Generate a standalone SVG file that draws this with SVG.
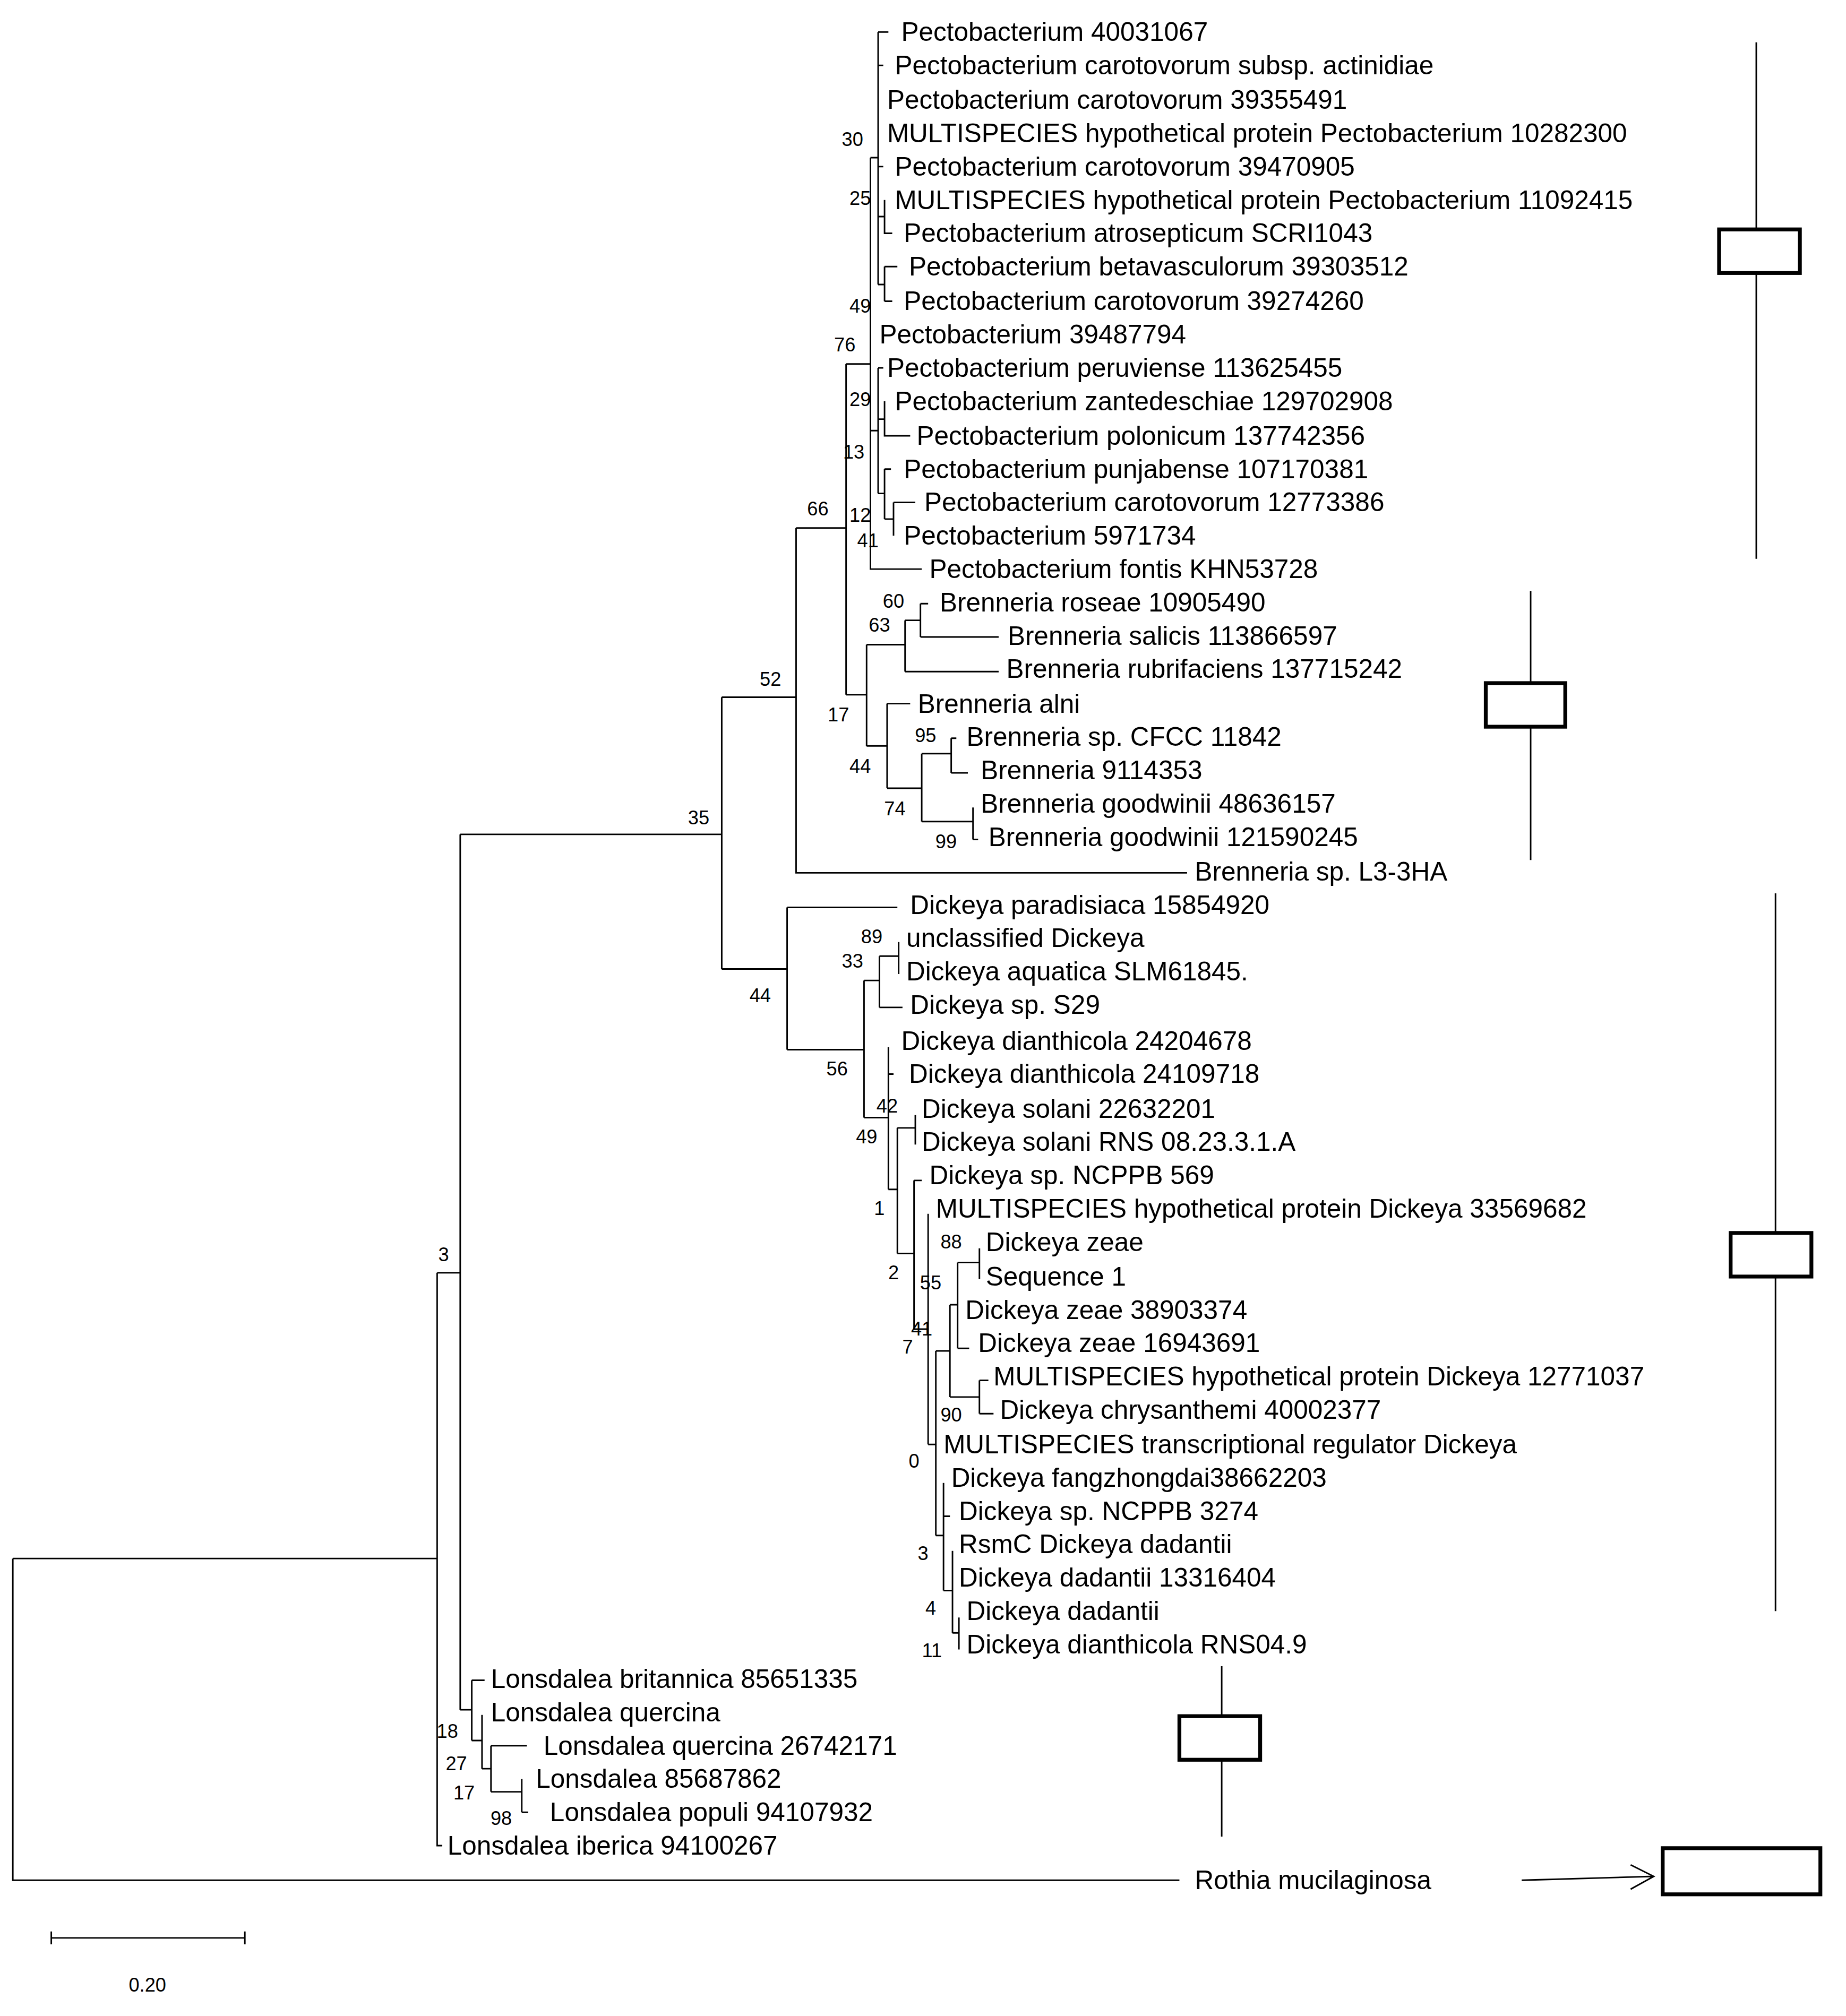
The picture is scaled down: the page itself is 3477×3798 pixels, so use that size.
<svg xmlns="http://www.w3.org/2000/svg" width="3477" height="3798" viewBox="0 0 3477 3798">
<style>
.t{font-family:"Liberation Sans",Arial,sans-serif;font-size:20.5px;fill:#000}
.b{font-family:"Liberation Sans",Arial,sans-serif;font-size:15px;fill:#000;text-anchor:middle}
.l{fill:none;stroke:#000;stroke-width:1.2}
.bx{fill:#fff;stroke:#000;stroke-width:3}
</style>
<rect width="3477" height="3798" fill="#fff"/>
<g transform="scale(2.4146)">
<g id="connectors">
<path class="l" d="M10 1216 V1467 H920 M10 1216 H341 M341 993 V1440 H345 M341 993 H359 M359 651 V1334 M359 651 H563 M359 1334 H368 M368 1311 V1358 M368 1311 H378 M368 1358 H376 M376 1338 V1380 M376 1380 H383 M383 1362 V1398 M383 1362 H411 M383 1398 H407 M407 1388 V1414 M407 1414 H412
M563 544 V756 M563 544 H621 M563 756 H614
M614 708 V819 M614 708 H700 M614 819 H674 M674 765 V872 M674 765 H686 M686 746 V786 M686 786 H704 M686 746 H701 M701 735 V760 M674 872 H693 M693 817 V928 M693 838 H697 M693 928 H700 M700 880 V978 M700 880 H714 M714 870 V893 M700 978 H713 M713 921 V1037 M713 921 H719 M713 1037 H724 M724 947 V1127 M724 1127 H730 M730 1054 V1198 M730 1054 H741 M741 1018 V1090 M741 1018 H747 M747 985 V1052 M747 985 H764 M764 974 V998 M747 1052 H756 M741 1090 H764 M764 1077 V1103 M764 1077 H771 M764 1103 H775 M730 1198 H736 M736 1157 V1241 M736 1183 H741 M736 1241 H743 M743 1210 V1274 M743 1274 H748 M748 1262 V1287
M621 412 V681 H926 M621 412 H660 M660 284 V542 M660 284 H679 M660 542 H676 M676 503 V582 M676 503 H706 M706 484 V524 M706 524 H779 M706 484 H718 M718 471 V497 M718 471 H724 M718 497 H779 M676 582 H692 M692 549 V615 M692 549 H710 M692 615 H719 M719 588 V641 M719 588 H742 M742 576 V603 M742 576 H746 M742 603 H755 M719 641 H759 M759 630 V655 M759 655 H763
M679 123 V444 H719 M679 123 H685 M685 25 V222 M685 25 H693 M685 51 H689 M685 130 H689 M685 169 H690 M690 156 V182 H696 M685 222 H690 M690 208 V235 M690 208 H700 M690 235 H696 M679 336 H685 M685 287 V385 M685 287 H689 M685 327 H690 M690 313 V340 H710 M685 385 H690 M690 366 V405 M690 366 H695 M690 405 H697 M697 392 V418 M697 392 H714
M1370 33 V436 M1194 461 V671 M1385 697 V1257 M953 1300 V1433
M1187 1467 L1290 1464 M1272 1455 L1290 1464 L1272 1474
M40 1512 H191 M40 1507 V1517 M191 1507 V1517"/>
</g>
<g id="boxes">
<rect class="bx" x="1341" y="179" width="63" height="34"/>
<rect class="bx" x="1159" y="533" width="62" height="34"/>
<rect class="bx" x="1350" y="962" width="63" height="34"/>
<rect class="bx" x="920" y="1339" width="63" height="34"/>
<rect class="bx" x="1297" y="1442" width="123" height="36"/>
</g>
<g id="taxa">
<text class="t" x="703" y="32">Pectobacterium 40031067</text>
<text class="t" x="698" y="58">Pectobacterium carotovorum subsp. actinidiae</text>
<text class="t" x="692" y="85">Pectobacterium carotovorum 39355491</text>
<text class="t" x="692" y="111">MULTISPECIES hypothetical protein Pectobacterium 10282300</text>
<text class="t" x="698" y="137">Pectobacterium carotovorum 39470905</text>
<text class="t" x="698" y="163">MULTISPECIES hypothetical protein Pectobacterium 11092415</text>
<text class="t" x="705" y="189">Pectobacterium atrosepticum SCRI1043</text>
<text class="t" x="709" y="215">Pectobacterium betavasculorum 39303512</text>
<text class="t" x="705" y="242">Pectobacterium carotovorum 39274260</text>
<text class="t" x="686" y="268">Pectobacterium 39487794</text>
<text class="t" x="692" y="294">Pectobacterium peruviense 113625455</text>
<text class="t" x="698" y="320">Pectobacterium zantedeschiae 129702908</text>
<text class="t" x="715" y="347">Pectobacterium polonicum 137742356</text>
<text class="t" x="705" y="373">Pectobacterium punjabense 107170381</text>
<text class="t" x="721" y="399">Pectobacterium carotovorum 12773386</text>
<text class="t" x="705" y="425">Pectobacterium 5971734</text>
<text class="t" x="725" y="451">Pectobacterium fontis KHN53728</text>
<text class="t" x="733" y="477">Brenneria roseae 10905490</text>
<text class="t" x="786" y="503">Brenneria salicis 113866597</text>
<text class="t" x="785" y="529">Brenneria rubrifaciens 137715242</text>
<text class="t" x="716" y="556">Brenneria alni</text>
<text class="t" x="754" y="582">Brenneria sp. CFCC 11842</text>
<text class="t" x="765" y="608">Brenneria 9114353</text>
<text class="t" x="765" y="634">Brenneria goodwinii 48636157</text>
<text class="t" x="771" y="660">Brenneria goodwinii 121590245</text>
<text class="t" x="932" y="687">Brenneria sp. L3-3HA</text>
<text class="t" x="710" y="713">Dickeya paradisiaca 15854920</text>
<text class="t" x="707" y="739">unclassified Dickeya</text>
<text class="t" x="707" y="765">Dickeya aquatica SLM61845.</text>
<text class="t" x="710" y="791">Dickeya sp. S29</text>
<text class="t" x="703" y="819">Dickeya dianthicola 24204678</text>
<text class="t" x="709" y="845">Dickeya dianthicola 24109718</text>
<text class="t" x="719" y="872">Dickeya solani 22632201</text>
<text class="t" x="719" y="898">Dickeya solani RNS 08.23.3.1.A</text>
<text class="t" x="725" y="924">Dickeya sp. NCPPB 569</text>
<text class="t" x="730" y="950">MULTISPECIES hypothetical protein Dickeya 33569682</text>
<text class="t" x="769" y="976">Dickeya zeae</text>
<text class="t" x="769" y="1003">Sequence 1</text>
<text class="t" x="753" y="1029">Dickeya zeae 38903374</text>
<text class="t" x="763" y="1055">Dickeya zeae 16943691</text>
<text class="t" x="775" y="1081">MULTISPECIES hypothetical protein Dickeya 12771037</text>
<text class="t" x="780" y="1107">Dickeya chrysanthemi 40002377</text>
<text class="t" x="736" y="1134">MULTISPECIES transcriptional regulator Dickeya</text>
<text class="t" x="742" y="1160">Dickeya fangzhongdai38662203</text>
<text class="t" x="748" y="1186">Dickeya sp. NCPPB 3274</text>
<text class="t" x="748" y="1212">RsmC Dickeya dadantii</text>
<text class="t" x="748" y="1238">Dickeya dadantii 13316404</text>
<text class="t" x="754" y="1264">Dickeya dadantii</text>
<text class="t" x="754" y="1290">Dickeya dianthicola RNS04.9</text>
<text class="t" x="383" y="1317">Lonsdalea britannica 85651335</text>
<text class="t" x="383" y="1343">Lonsdalea quercina</text>
<text class="t" x="424" y="1369">Lonsdalea quercina 26742171</text>
<text class="t" x="418" y="1395">Lonsdalea 85687862</text>
<text class="t" x="429" y="1421">Lonsdalea populi 94107932</text>
<text class="t" x="349" y="1447">Lonsdalea iberica 94100267</text>
<text class="t" x="932" y="1474">Rothia mucilaginosa</text>
</g>
<g id="bootstrap">
<text class="b" x="665" y="114">30</text><text class="b" x="671" y="160">25</text><text class="b" x="671" y="244">49</text>
<text class="b" x="659" y="274">76</text><text class="b" x="671" y="317">29</text><text class="b" x="666" y="358">13</text>
<text class="b" x="638" y="402">66</text><text class="b" x="671" y="407">12</text><text class="b" x="677" y="427">41</text>
<text class="b" x="697" y="474">60</text><text class="b" x="686" y="493">63</text><text class="b" x="601" y="535">52</text>
<text class="b" x="654" y="563">17</text><text class="b" x="722" y="579">95</text><text class="b" x="671" y="603">44</text>
<text class="b" x="698" y="636">74</text><text class="b" x="738" y="662">99</text><text class="b" x="545" y="643">35</text>
<text class="b" x="680" y="736">89</text><text class="b" x="665" y="755">33</text><text class="b" x="593" y="782">44</text>
<text class="b" x="653" y="839">56</text><text class="b" x="692" y="868">42</text><text class="b" x="676" y="892">49</text>
<text class="b" x="686" y="948">1</text><text class="b" x="742" y="974">88</text><text class="b" x="697" y="998">2</text>
<text class="b" x="726" y="1006">55</text><text class="b" x="719" y="1042">41</text><text class="b" x="708" y="1056">7</text>
<text class="b" x="742" y="1109">90</text><text class="b" x="713" y="1145">0</text><text class="b" x="720" y="1217">3</text>
<text class="b" x="726" y="1260">4</text><text class="b" x="727" y="1293">11</text><text class="b" x="346" y="984">3</text>
<text class="b" x="349" y="1356">18</text><text class="b" x="356" y="1381">27</text><text class="b" x="362" y="1404">17</text>
<text class="b" x="391" y="1424">98</text>
<text class="b" x="115" y="1554">0.20</text>
</g>
</g>
</svg>
